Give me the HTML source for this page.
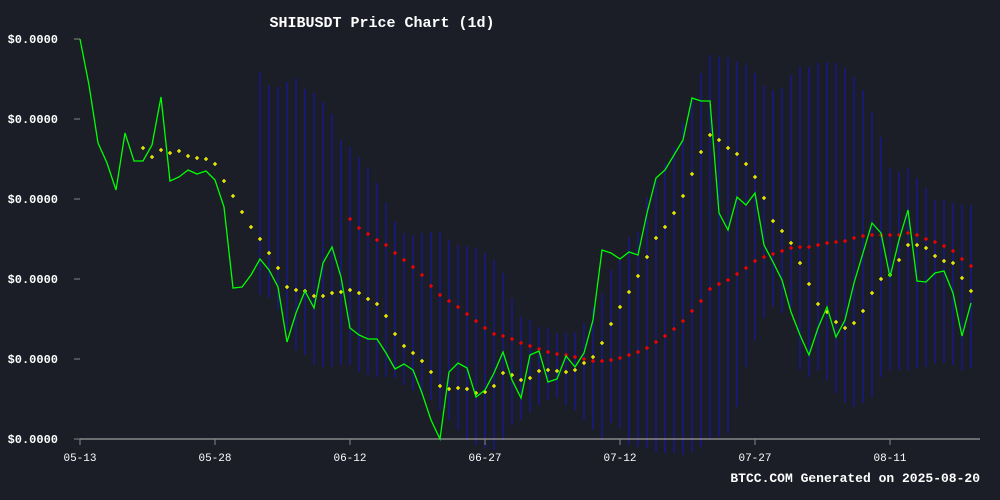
<!DOCTYPE html>
<html><head><meta charset="utf-8"><style>
html,body{margin:0;padding:0;background:#1b1d27;}
svg{display:block;font-family:"Liberation Mono","DejaVu Sans Mono",monospace;}
</style></head><body>
<svg id="chart" width="1000" height="500" viewBox="0 0 1000 500" xmlns="http://www.w3.org/2000/svg">
<rect x="0" y="0" width="1000" height="500" fill="#1b1d27"/>
<text x="382" y="27" fill="#ffffff" font-size="15" font-weight="bold" text-anchor="middle">SHIBUSDT Price Chart (1d)</text>
<g id="bands"></g>
<g id="axes"></g>
<g id="series"></g>
<text x="980" y="482" fill="#ffffff" font-size="13" font-weight="bold" text-anchor="end">BTCC.COM Generated on 2025-08-20</text>
</svg>
<script>
const xTickLabels = ["05-13","05-28","06-12","06-27","07-12","07-27","08-11"];
const xTickIdx = [0,15,30,45,60,75,90];
const yTickVals = [0,80,160,240,320,400];
const yTickLabels = ["$0.0000","$0.0000","$0.0000","$0.0000","$0.0000","$0.0000"];
const closeVals = [400,354,296,276,249,306,278,278,294,342,258,262,269,265,268,259,232,151,152,164,180,169,152,97,126,148,131,176,192,162,111,104,100,100,86,70,75,69,46,19,0,67,76,71,42,49,66,87,59,41,84,88,57,60,83,72,86,119,189,186,180,187,184,226,261,269,284,299,341,338,338,226,209,242,234,246,194,177,159,127,104,84,111,132,102,119,156,186,216,206,162,199,229,158,157,166,168,146,103,136];
const shortMA = [null,null,null,null,null,null,null,291,282,289,286,288,283,281,280,275,258,243,227,212,200,186,171,152,149,148,143,143,146,147,149,146,140,135,123,105,93,86,78,67,53,50,51,50,46,47,53,66,64,59,61,68,69,68,67,69,76,82,96,115,132,147,163,182,201,212,226,243,265,287,304,299,291,285,275,262,241,218,208,196,176,155,135,127,117,111,116,128,146,160,164,179,194,194,191,183,178,176,161,148];
const longMAStart = 30;
const longMA = [220,211,205,199,194,186,179,172,164,153,144,138,132,125,118,111,105,103,100,96,93,90,87,85,84,82,80,78,78,79,81,84,87,91,97,103,110,118,128,138,150,155,159,165,171,178,182,185,188,191,192,192,194,196,197,198,201,203,204,204,204,204,206,204,200,197,193,188,180,173];
const bandStart = 20;
const bandHigh = [367,354,352,357,361,350,346,337,325,299,292,282,271,256,236,217,206,204,206,207,207,199,194,193,191,186,179,166,141,122,119,112,111,106,106,107,116,132,146,169,179,202,207,242,262,276,292,316,342,366,384,382,382,377,374,366,354,349,351,364,372,372,376,377,376,371,362,349,327,302,271,267,271,261,251,239,239,236,234,234];
const bandLow = [144,141,129,109,89,84,74,72,72,74,74,67,64,62,62,61,54,49,44,39,29,19,9,-1,-6,-9,-11,-1,14,19,27,34,39,41,34,29,19,9,-1,16,11,-6,-8,-9,-13,-14,-14,-16,-13,-8,1,2,6,32,72,99,121,132,126,132,69,62,69,59,46,36,32,36,42,62,69,69,69,71,72,76,76,74,69,71];

const NS="http://www.w3.org/2000/svg";
const X0=80, DX=9, Y0=439, YK=1;
function xs(i){return X0+i*DX;}
function ys(v){return Y0-v*YK;}
function mk(tag,attrs,parent){const e=document.createElementNS(NS,tag);for(const k in attrs)e.setAttribute(k,attrs[k]);parent.appendChild(e);return e;}
const bands=document.getElementById('bands'), axes=document.getElementById('axes'), series=document.getElementById('series');

for(let j=0;j<bandHigh.length;j++){
  const x=xs(bandStart+j);
  const l=mk('line',{x1:x,x2:x,y1:ys(bandHigh[j]),y2:ys(bandLow[j]),stroke:'#18188a','stroke-width':1.5},bands);
  
  
}
const ax=mk('line',{x1:80,x2:980,y1:439,y2:439,stroke:'#888','stroke-width':1.5},axes);


yTickVals.forEach((v,k)=>{
  const t=mk('line',{x1:74,x2:80,y1:ys(v),y2:ys(v),stroke:'#888','stroke-width':1},axes);
  
  
  const tx=mk('text',{x:58,y:ys(v)+4,fill:'#fff','font-size':12,'font-weight':'bold','text-anchor':'end'},axes);
  tx.textContent=yTickLabels[k];
  
  
});
xTickIdx.forEach((i,k)=>{
  const x=xs(i);
  const t=mk('line',{x1:x,x2:x,y1:439,y2:445,stroke:'#888','stroke-width':1},axes);
  
  
  const tx=mk('text',{x:x,y:461,fill:'#fff','font-size':11,'text-anchor':'middle'},axes);
  tx.textContent=xTickLabels[k];
  
  
});
function cross(x,y,c,name){
  const p=mk('path',{d:`M${x-2} ${y}H${x+2}M${x} ${y-2}V${y+2}`,stroke:c,'stroke-width':1.3},series);
  
  
}
longMA.forEach((v,j)=>cross(xs(longMAStart+j),ys(v),'#ff0000','long-ma-point'));
shortMA.forEach((v,i)=>{if(v!==null)cross(xs(i),ys(v),'#ffff00','short-ma-point');});
const pts=closeVals.map((v,i)=>xs(i)+','+ys(v)).join(' ');
const pl=mk('polyline',{points:pts,fill:'none',stroke:'#00ff00','stroke-width':1.3},series);


</script>
</body></html>
